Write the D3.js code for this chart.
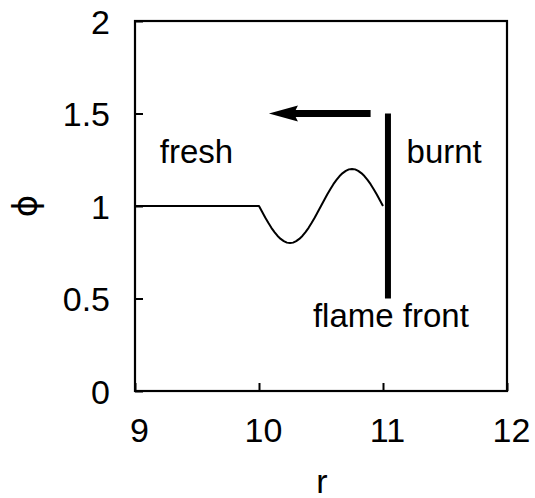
<!DOCTYPE html>
<html>
<head>
<meta charset="utf-8">
<script src="https://cdn.jsdelivr.net/npm/d3@7"></script>
<style>
  body { margin: 0; background: #fff; }
  text { font-family: "Liberation Sans", Arial, sans-serif; fill: #000; }
</style>
</head>
<body>
<svg id="chart" width="535" height="498"></svg>
<script>
// equivalence ratio profile ahead of the flame front
var rValues = [9, 10, 10.025, 10.05, 10.075, 10.1, 10.125, 10.15, 10.175, 10.2, 10.225, 10.25,
  10.275, 10.3, 10.325, 10.35, 10.375, 10.4, 10.425, 10.45, 10.475, 10.5,
  10.525, 10.55, 10.575, 10.6, 10.625, 10.65, 10.675, 10.7, 10.725, 10.75,
  10.775, 10.8, 10.825, 10.85, 10.875, 10.9, 10.925, 10.95, 10.975, 11.0];
var phiValues = [1, 1, 0.969, 0.938, 0.909, 0.882, 0.859, 0.838, 0.822, 0.81, 0.802, 0.8,
  0.802, 0.81, 0.822, 0.838, 0.859, 0.882, 0.909, 0.938, 0.969, 1.0,
  1.031, 1.062, 1.091, 1.118, 1.141, 1.162, 1.178, 1.19, 1.198, 1.2,
  1.198, 1.19, 1.178, 1.162, 1.141, 1.118, 1.091, 1.062, 1.031, 1.0];
var xTicks = [9, 10, 11, 12];
var yTicks = [0, 0.5, 1, 1.5, 2];
var yTickLabels = ["0", "0.5", "1", "1.5", "2"];
var frontR = [11.04];
var frontPhi = [0.5, 1.5];
var arrowR = [10.9, 10.08];
var arrowPhi = [1.5];

(function() {
  var svg = d3.select("#chart");
  var mLeft = 135, mTop = 21, plotW = 372, plotH = 370;
  var x = d3.scaleLinear().domain([9, 12]).range([mLeft, mLeft + plotW]);
  var y = d3.scaleLinear().domain([0, 2]).range([mTop + plotH, mTop]);

  var g = svg.append("g");

  // frame
  g.append("rect")
    .attr("x", x(9)).attr("y", y(2))
    .attr("width", x(12) - x(9)).attr("height", y(0) - y(2))
    .attr("fill", "none").attr("stroke", "#000").attr("stroke-width", 2.2);

  // bottom axis, ticks point inward
  var xAxis = d3.axisBottom(x).tickValues(xTicks).tickSize(-8).tickPadding(0)
    .tickFormat(d3.format("d"));
  var xg = g.append("g").attr("transform", "translate(0," + y(0) + ")").call(xAxis);
  xg.select(".domain").remove();
  xg.selectAll("line").attr("stroke-width", 2);
  xg.selectAll("text")
    .attr("font-size", 34).attr("dy", null)
    .attr("y", 51).attr("x", 4)
    .style("font-family", "Liberation Sans, Arial, sans-serif");

  var yAxis = d3.axisLeft(y).tickValues(yTicks).tickSize(-8)
    .tickFormat(function(d, i) { return yTickLabels[i]; });
  var yg = g.append("g").attr("transform", "translate(" + x(9) + ",0)").call(yAxis);
  yg.select(".domain").remove();
  yg.selectAll("line").attr("stroke-width", 2);
  yg.selectAll("text")
    .attr("font-size", 34).attr("x", -25).attr("dy", "0.36em")
    .style("font-family", "Liberation Sans, Arial, sans-serif");

  // profile curve
  var pts = rValues.map(function(r, i) { return [r, phiValues[i]]; });
  var line = d3.line()
    .x(function(d) { return x(d[0]); })
    .y(function(d) { return y(d[1]); });
  g.append("path").datum(pts)
    .attr("d", line)
    .attr("fill", "none").attr("stroke", "#000").attr("stroke-width", 2)
    .attr("stroke-linejoin", "round");

  // flame front
  g.append("line")
    .attr("x1", x(frontR[0])).attr("x2", x(frontR[0]))
    .attr("y1", y(frontPhi[0])).attr("y2", y(frontPhi[1]))
    .attr("stroke", "#000").attr("stroke-width", 6);

  // propagation arrow
  var headLen = 29, headHalf = 8;
  var tipX = x(arrowR[1]), ay = y(arrowPhi[0]);
  g.append("line")
    .attr("x1", x(arrowR[0])).attr("x2", tipX + headLen - 4)
    .attr("y1", ay).attr("y2", ay)
    .attr("stroke", "#000").attr("stroke-width", 7);
  g.append("path")
    .attr("d", "M" + tipX + "," + ay +
      "L" + (tipX + headLen) + "," + (ay - headHalf) +
      "L" + (tipX + headLen - 4) + "," + ay +
      "L" + (tipX + headLen) + "," + (ay + headHalf) + "Z")
    .attr("fill", "#000");

  // annotations
  g.append("text").attr("x", x(9.2)).attr("y", y(1.232))
    .attr("font-size", 33).text("fresh");
  g.append("text").attr("x", x(11.19)).attr("y", y(1.232))
    .attr("font-size", 33).text("burnt");
  g.append("text").attr("x", x(10.435)).attr("y", y(0.346))
    .attr("font-size", 33).text("flame front");

  // axis titles
  g.append("text").attr("x", (x(9) + x(12)) / 2 + 1).attr("y", 493)
    .attr("text-anchor", "middle").attr("font-size", 34).text("r");
  g.append("text")
    .attr("transform", "translate(37," + y(1) + ") rotate(-90)")
    .attr("text-anchor", "middle").attr("font-size", 34)
    .style("font-family", "DejaVu Sans, sans-serif")
    .text("ϕ");
})();
</script>
</body>
</html>
